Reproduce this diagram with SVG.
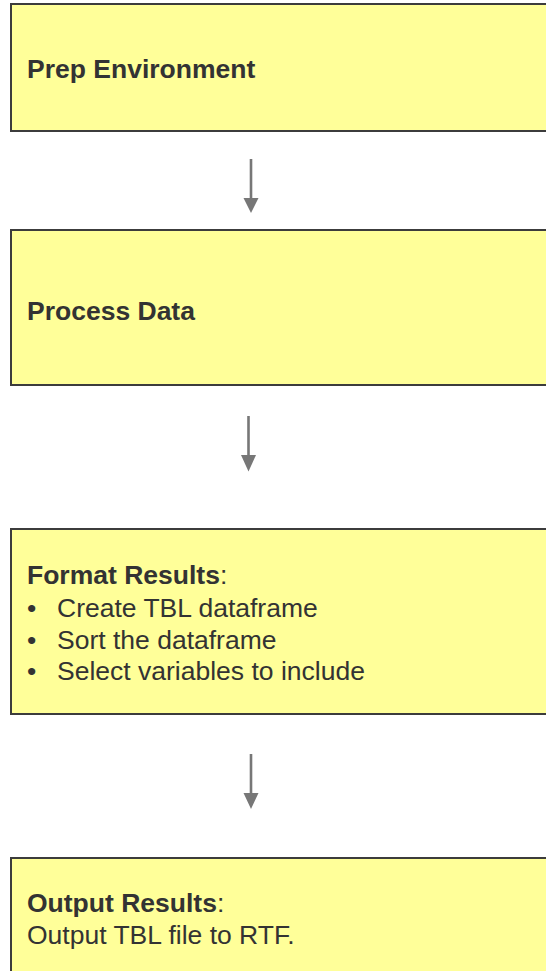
<svg xmlns="http://www.w3.org/2000/svg" width="546" height="971" viewBox="0 0 546 971">
  <style>
    .box { fill: #ffff99; stroke: #3c3c3c; stroke-width: 2; }
    .t { font-family: "Liberation Sans", Arial, sans-serif; font-size: 26.5px; fill: #333333; }
    .b { font-weight: bold; }
    .link { stroke: #777777; stroke-width: 2.6; fill: none; }
    .head { fill: #777777; }
  </style>
  <rect width="546" height="971" fill="#ffffff"/>

  <g id="prep-environment">
    <rect class="box" x="11" y="4" width="600" height="127"/>
    <text class="t b" x="27" y="78">Prep Environment</text>
  </g>

  <g id="process-data">
    <rect class="box" x="11" y="230" width="600" height="155"/>
    <text class="t b" x="27" y="320">Process Data</text>
  </g>

  <g id="format-results">
    <rect class="box" x="11" y="529" width="600" height="185"/>
    <text class="t" x="27" y="584"><tspan class="b">Format Results</tspan>:</text>
    <text class="t" x="27" y="616.5">•</text>
    <text class="t" x="57" y="616.5">Create TBL dataframe</text>
    <text class="t" x="27" y="648.5">•</text>
    <text class="t" x="57" y="648.5">Sort the dataframe</text>
    <text class="t" x="27" y="680">•</text>
    <text class="t" x="57" y="680">Select variables to include</text>
  </g>

  <g id="output-results">
    <rect class="box" x="11" y="858" width="600" height="140"/>
    <text class="t" x="27" y="912"><tspan class="b">Output Results</tspan>:</text>
    <text class="t" x="27" y="944">Output TBL file to RTF.</text>
  </g>

  <g id="connectors">
    <line class="link" x1="251" y1="159" x2="251" y2="199"/>
    <polygon class="head" points="243.5,198 258.5,198 251,213"/>
    <line class="link" x1="248.5" y1="416" x2="248.5" y2="456"/>
    <polygon class="head" points="241,455 256,455 248.5,471.5"/>
    <line class="link" x1="251" y1="754" x2="251" y2="794"/>
    <polygon class="head" points="243.5,793 258.5,793 251,809"/>
  </g>
</svg>
